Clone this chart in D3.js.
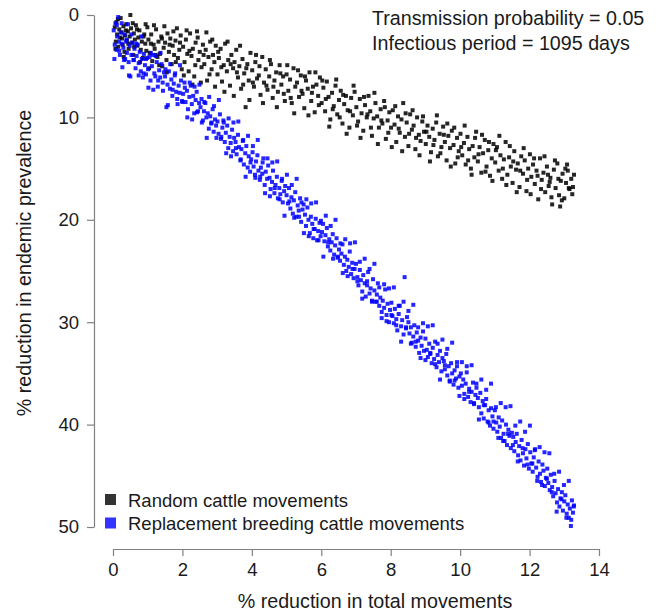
<!DOCTYPE html>
<html>
<head>
<meta charset="utf-8">
<script src="https://cdn.jsdelivr.net/npm/d3@7"></script>
<style>
  body { margin: 0; background: #fff; }
  svg { display: block; font-family: "Liberation Sans", Arial, sans-serif; }
</style>
</head>
<body>
<svg id="chart" width="658" height="615"></svg>
<script>
// axis ticks and labels
const xTicks = [0, 2, 4, 6, 8, 10, 12, 14];
const yTicks = [0, 10, 20, 30, 40, 50];
const xTitle = "% reduction in total movements";
const yTitle = "% reduction in endemic prevalence";
const noteLines = ["Transmission probability = 0.05", "Infectious period = 1095 days"];
const seriesNames = ["Random cattle movements", "Replacement breeding cattle movements"];

// [% reduction in movements, % reduction in prevalence]
const randomPts = [
  [0.05,1.2],[0.08,2.6],[0.1,0.7],[0.12,1.9],[0.15,3.1],[0.18,1.4],[0.2,2.2],[0.22,0.3],[0.25,1.7],[0.28,2.9],
  [0.3,1.1],[0.33,3.6],[0.35,2.0],[0.38,0.9],[0.4,2.5],[0.43,1.6],[0.45,3.3],[0.48,2.1],[0.5,0.0],[0.52,1.3],
  [0.55,2.7],[0.58,3.9],[0.6,1.8],[0.63,2.4],[0.66,1.0],[0.7,3.0],[0.73,2.2],[0.76,1.5],[0.8,3.4],[0.83,2.6],
  [0.86,4.2],[0.9,1.9],[0.93,2.8],[0.96,3.5],[0.99,1.2],
  [1.02,2.4],[1.06,3.7],[1.1,1.9],[1.13,4.5],[1.17,2.9],[1.2,3.3],[1.24,1.4],[1.28,4.1],[1.31,2.6],[1.35,3.8],
  [1.39,2.1],[1.42,5.0],[1.46,3.2],[1.5,2.7],[1.54,4.4],[1.57,1.8],[1.61,3.6],[1.65,2.3],[1.69,4.8],[1.72,3.0],
  [1.76,3.9],[1.8,2.5],[1.84,1.3],[1.87,4.2],[1.91,3.4],[1.95,2.0],[1.98,5.3],
  [2.02,3.1],[2.06,4.6],[2.1,2.4],[2.14,3.8],[2.18,5.5],[2.22,1.8],[2.26,4.0],[2.3,3.3],[2.34,6.0],[2.38,2.7],
  [2.42,1.6],[2.46,4.4],[2.5,3.6],[2.55,5.1],[2.59,2.9],[2.63,4.8],[2.67,3.4],[2.71,6.4],[2.75,4.1],[2.8,2.6],
  [2.84,5.3],[2.88,3.9],[2.92,4.6],[2.96,3.0],
  [3.01,5.8],[3.05,4.2],[3.1,3.3],[3.14,6.5],[3.19,4.9],[3.23,2.8],[3.28,5.5],[3.32,4.4],[3.37,6.9],[3.41,3.9],
  [3.46,5.2],[3.5,4.6],[3.55,3.4],[3.6,6.1],[3.64,5.0],[3.69,7.2],[3.73,4.3],[3.78,5.7],[3.82,9.0],[3.87,4.8],
  [3.91,6.4],[3.96,3.7],
  [4.01,5.4],[4.06,7.0],[4.1,4.6],[4.15,6.2],[4.2,5.9],[4.25,7.8],[4.3,4.1],[4.35,6.6],[4.4,5.3],[4.45,7.3],
  [4.5,6.0],[4.55,4.8],[4.6,8.1],[4.65,6.4],[4.7,5.6],[4.75,7.5],[4.8,4.9],[4.85,6.8],[4.9,6.0],[4.95,8.4],
  [5.0,5.8],[5.05,7.4],[5.1,6.3],[5.15,8.6],[5.2,5.2],[5.25,7.0],[5.3,6.6],[5.36,8.0],[5.41,5.9],[5.46,7.7],
  [5.51,9.1],[5.56,6.4],[5.61,7.2],[5.66,5.6],[5.71,8.4],[5.76,7.0],[5.81,9.5],[5.86,6.8],[5.91,7.9],[5.96,6.1],
  [6.01,8.6],[6.06,7.1],[6.11,9.4],[6.16,6.5],[6.21,8.0],[6.26,10.2],[6.31,7.6],[6.36,8.9],[6.41,6.9],[6.46,9.7],
  [6.51,8.3],[6.56,7.4],[6.61,10.6],[6.66,8.7],[6.71,7.9],[6.76,9.3],[6.81,11.0],[6.86,8.1],[6.91,9.8],[6.96,7.5],
  [7.01,9.0],[7.06,10.4],[7.11,8.2],[7.16,9.6],[7.21,11.3],[7.26,8.8],[7.31,10.0],[7.36,7.9],[7.41,9.4],[7.46,11.8],
  [7.51,10.1],[7.56,8.6],[7.61,9.9],[7.66,11.0],[7.71,9.2],[7.76,10.6],[7.81,8.4],[7.86,12.1],[7.91,10.3],[7.96,9.5],
  [8.01,11.0],[8.06,9.3],[8.11,10.7],[8.16,12.4],[8.21,9.9],[8.26,11.5],[8.31,10.2],[8.36,8.6],[8.41,11.9],[8.46,10.5],
  [8.51,12.8],[8.56,9.7],[8.61,11.2],[8.66,10.8],[8.71,13.1],[8.76,10.0],[8.81,11.7],[8.86,12.3],[8.91,10.4],[8.96,11.4],
  [9.01,12.6],[9.06,10.8],[9.11,11.9],[9.16,13.4],[9.21,11.1],[9.26,12.2],[9.31,10.5],[9.36,13.8],[9.41,11.6],[9.46,12.9],
  [9.51,10.9],[9.56,12.4],[9.61,14.2],[9.66,11.8],[9.71,13.0],[9.76,11.3],[9.81,12.7],[9.86,14.5],[9.91,12.0],[9.96,13.3],
  [10.01,11.6],[10.06,13.7],[10.11,12.5],[10.16,14.6],[10.21,11.9],[10.26,13.1],[10.31,15.0],[10.36,12.8],[10.41,13.9],[10.46,11.4],
  [10.51,14.3],[10.56,12.9],[10.61,15.4],[10.66,13.5],[10.71,12.2],[10.76,14.8],[10.81,13.2],[10.86,15.7],[10.91,14.0],[10.96,12.6],
  [11.01,14.4],[11.06,12.9],[11.11,15.2],[11.16,13.7],[11.21,16.0],[11.26,14.1],[11.31,12.4],[11.36,15.6],[11.41,13.9],[11.46,14.8],
  [11.51,16.4],[11.56,13.3],[11.61,15.1],[11.66,14.5],[11.71,16.8],[11.76,13.8],[11.81,15.5],[11.86,14.2],[11.91,17.2],[11.96,15.0],
  [12.01,13.6],[12.05,15.8],[12.1,14.6],[12.15,16.5],[12.2,15.2],[12.25,18.0],[12.3,14.0],[12.35,16.1],[12.4,15.4],[12.45,17.3],
  [12.5,14.8],[12.55,16.7],[12.6,15.9],[12.65,18.5],[12.7,15.1],[12.75,16.9],[12.8,14.5],[12.85,17.6],[12.9,16.2],[12.95,15.5],
  [13.0,17.9],[13.05,16.4],[13.1,15.2],[13.15,17.0],[13.2,16.0],[13.25,16.8],[13.28,15.6],
  [0.07,3.3],[0.14,0.4],[0.26,2.3],[0.31,4.1],[0.37,1.5],[0.44,2.8],[0.57,0.8],[0.61,3.1],[0.69,1.4],[0.78,4.6],
  [0.88,2.1],[0.94,0.9],[1.04,5.2],[1.09,2.8],[1.18,1.0],[1.23,3.9],[1.33,4.9],[1.41,2.3],[1.48,1.1],[1.55,5.6],
  [1.63,2.9],[1.74,1.6],[1.81,4.6],[1.93,2.7],[2.04,5.9],[2.12,1.5],[2.2,3.5],[2.29,6.8],[2.37,4.9],[2.44,2.2],
  [2.53,6.6],[2.61,3.9],[2.69,1.7],[2.78,5.8],[2.86,2.4],[2.94,7.0],[3.03,3.6],[3.12,5.1],[3.21,7.5],[3.3,2.6],
  [3.39,4.8],[3.48,7.9],[3.57,5.6],[3.66,3.0],[3.75,6.8],[3.84,5.2],[3.93,8.3],[4.03,6.6],[4.12,3.9],[4.22,5.0],
  [4.32,8.6],[4.42,6.9],[4.52,4.4],[4.62,7.0],[4.72,9.0],[4.82,5.7],[4.92,7.7],[5.02,4.9],[5.12,8.1],[5.22,9.6],
  [5.33,5.4],[5.43,7.4],[5.53,6.0],[5.63,9.8],[5.73,7.6],[5.83,5.6],[5.93,8.8],[6.03,6.4],[6.13,8.2],[6.23,10.9],
  [6.33,9.2],[6.43,6.3],[6.53,10.0],[6.63,7.8],[6.73,11.6],[6.83,9.4],[6.93,6.9],[7.03,10.8],[7.13,12.0],[7.23,8.0],
  [7.33,9.7],[7.43,11.0],[7.53,7.6],[7.63,12.6],[7.73,10.3],[7.83,9.0],[7.93,11.5],[8.03,12.9],[8.13,8.9],[8.23,11.1],
  [8.33,13.3],[8.43,9.6],[8.53,11.6],[8.63,9.3],[8.73,12.0],[8.83,13.7],[8.93,9.9],[9.03,11.4],[9.13,14.3],[9.23,12.7],
  [9.33,9.8],[9.43,13.5],[9.53,11.7],[9.63,10.6],[9.73,14.8],[9.83,11.0],[9.93,13.9],[10.03,12.9],[10.13,10.8],[10.23,14.2],
  [10.33,15.6],[10.43,12.0],[10.53,13.6],[10.63,11.7],[10.73,15.3],[10.83,12.4],[10.93,16.2],[11.03,13.2],[11.13,11.8],[11.23,15.0],
  [11.33,16.6],[11.43,12.8],[11.53,14.3],[11.63,17.3],[11.73,15.2],[11.83,13.0],[11.93,16.1],[12.03,17.5],[12.13,14.0],[12.23,15.7],
  [12.33,17.0],[12.43,13.8],[12.53,15.6],[12.63,17.8],[12.73,14.2],[12.83,16.0],[12.93,18.1],[13.03,15.0],[13.13,16.9],[13.23,17.5],
  [13.08,14.6],[12.88,18.7],[12.58,16.3]
];

const breedingPts = [
  [0.02,1.5],[0.05,2.9],[0.07,0.8],[0.1,3.4],[0.12,2.1],[0.15,0.2],[0.17,2.6],[0.2,3.9],[0.22,1.7],[0.25,2.8],
  [0.27,5.1],[0.3,3.2],[0.33,1.9],[0.35,4.3],[0.38,2.6],[0.4,3.7],[0.43,0.9],[0.45,4.6],[0.48,3.0],
  [0.5,6.0],[0.53,3.9],[0.56,2.7],[0.59,4.4],[0.62,3.3],[0.65,5.2],[0.68,4.0],[0.71,2.9],[0.74,4.7],[0.77,3.6],
  [0.8,5.5],[0.83,4.3],[0.86,6.1],[0.89,3.8],[0.92,4.9],[0.95,5.8],[0.98,4.2],
  [1.01,5.3],[1.05,4.1],[1.08,6.4],[1.12,5.0],[1.15,3.9],[1.19,5.7],[1.22,6.0],[1.26,4.6],[1.29,7.0],[1.33,5.4],
  [1.36,6.1],[1.4,4.8],[1.43,6.6],[1.47,5.6],
  [1.5,6.0],[1.54,9.0],[1.57,6.8],[1.61,5.5],[1.64,7.2],[1.68,6.3],[1.71,7.9],[1.75,6.7],[1.78,5.9],[1.82,7.5],
  [1.85,8.2],[1.89,6.9],[1.92,7.6],[1.96,6.4],[1.99,8.4],
  [2.02,7.7],[2.06,6.6],[2.09,8.5],[2.13,7.4],[2.16,9.2],[2.2,8.0],[2.24,6.9],[2.27,8.7],[2.31,7.9],[2.34,9.6],
  [2.38,8.3],[2.41,7.5],[2.45,9.4],[2.48,8.6],
  [2.52,9.0],[2.55,8.2],[2.59,10.3],[2.62,9.4],[2.66,8.6],[2.69,10.0],[2.73,9.6],[2.76,11.1],[2.8,9.9],[2.83,10.6],
  [2.87,9.2],[2.9,11.4],[2.94,10.2],[2.97,10.8],
  [3.01,10.4],[3.04,11.6],[3.08,9.7],[3.11,12.1],[3.15,11.0],[3.18,10.3],[3.22,12.4],[3.25,11.5],[3.29,10.8],[3.32,13.0],
  [3.36,11.9],[3.39,12.5],[3.43,11.2],[3.46,13.3],[3.49,12.0],
  [3.53,12.4],[3.56,13.6],[3.6,11.7],[3.63,12.9],[3.67,14.2],[3.7,13.1],[3.74,12.3],[3.77,14.6],[3.81,13.5],[3.84,12.8],
  [3.88,14.9],[3.91,13.8],[3.95,15.3],[3.98,14.1],
  [4.02,13.4],[4.05,14.8],[4.09,15.6],[4.12,14.3],[4.16,13.7],[4.19,15.2],[4.23,16.1],[4.26,14.9],[4.3,15.5],[4.33,14.0],
  [4.37,16.6],[4.4,15.3],[4.44,16.0],[4.47,14.7],
  [4.51,15.9],[4.54,17.0],[4.58,16.3],[4.61,15.2],[4.65,17.4],[4.68,16.6],[4.72,15.8],[4.75,17.9],[4.79,16.9],[4.82,17.5],
  [4.86,16.2],[4.89,18.3],[4.93,17.2],[4.96,16.7],
  [5.0,17.6],[5.04,18.4],[5.07,16.9],[5.11,18.9],[5.14,17.8],[5.18,19.4],[5.21,18.1],[5.25,17.3],[5.28,19.7],[5.32,18.6],
  [5.35,19.1],[5.39,17.9],[5.42,20.2],[5.46,19.0],[5.49,18.5],
  [5.53,19.5],[5.56,20.6],[5.6,18.8],[5.63,20.0],[5.67,21.3],[5.7,19.7],[5.74,20.4],[5.77,21.8],[5.81,20.9],[5.84,19.9],
  [5.88,22.0],[5.91,21.1],[5.95,20.3],[5.98,21.6],
  [6.02,21.2],[6.05,20.4],[6.09,22.1],[6.12,21.5],[6.16,20.8],[6.19,22.6],[6.23,21.9],[6.26,23.0],[6.3,22.2],[6.33,21.4],
  [6.37,23.4],[6.4,22.5],[6.44,21.8],[6.47,23.7],
  [6.51,22.9],[6.54,24.0],[6.58,23.3],[6.61,22.4],[6.65,24.4],[6.68,23.6],[6.72,25.0],[6.75,23.9],[6.79,24.6],[6.82,23.1],
  [6.86,25.3],[6.89,24.2],[6.93,25.7],[6.96,24.8],
  [7.0,24.3],[7.04,25.6],[7.07,26.4],[7.11,24.9],[7.14,25.9],[7.18,27.0],[7.21,25.4],[7.25,26.2],[7.28,27.5],[7.32,26.0],
  [7.35,25.1],[7.39,27.2],[7.42,26.7],[7.46,27.9],[7.49,25.8],
  [7.53,26.9],[7.56,28.0],[7.6,27.3],[7.63,26.2],[7.67,28.4],[7.7,27.6],[7.74,29.0],[7.77,27.9],[7.81,28.6],[7.84,26.8],
  [7.88,29.3],[7.91,28.2],[7.95,30.0],[7.98,28.8],
  [8.02,28.1],[8.05,29.4],[8.09,30.1],[8.12,28.7],[8.16,29.7],[8.19,30.8],[8.23,29.2],[8.26,28.4],[8.3,30.4],[8.33,29.8],
  [8.37,31.2],[8.4,25.6],[8.44,30.6],[8.47,29.5],
  [8.51,30.0],[8.54,31.1],[8.58,30.5],[8.61,32.0],[8.65,31.4],[8.68,30.3],[8.72,32.4],[8.75,31.0],[8.79,31.8],[8.82,33.0],
  [8.86,31.5],[8.89,32.3],[8.93,30.9],[8.96,32.8],
  [9.0,31.6],[9.04,32.7],[9.07,33.4],[9.11,32.1],[9.14,33.1],[9.18,34.0],[9.21,32.5],[9.25,33.6],[9.28,31.9],[9.32,34.4],
  [9.35,33.2],[9.39,33.9],[9.42,32.8],[9.46,34.8],[9.49,33.5],
  [9.53,33.8],[9.56,34.6],[9.6,33.1],[9.63,35.2],[9.67,34.3],[9.7,35.7],[9.74,34.0],[9.77,35.0],[9.81,36.1],[9.84,34.7],
  [9.88,35.5],[9.91,33.9],[9.95,36.4],[9.98,35.3],
  [10.02,35.0],[10.05,36.2],[10.09,35.6],[10.12,37.0],[10.16,36.0],[10.19,34.9],[10.23,37.3],[10.26,36.5],[10.3,37.8],[10.33,36.8],
  [10.37,35.9],[10.4,38.0],[10.44,37.1],[10.47,36.4],
  [10.51,37.4],[10.54,38.3],[10.58,36.9],[10.61,38.9],[10.65,37.7],[10.68,39.4],[10.72,38.1],[10.75,37.5],[10.79,39.7],[10.82,38.6],
  [10.86,40.1],[10.89,38.4],[10.93,39.2],[10.96,40.4],
  [11.0,38.6],[11.04,39.8],[11.07,40.7],[11.11,39.3],[11.14,40.2],[11.18,41.3],[11.21,39.6],[11.25,40.9],[11.28,41.6],[11.32,40.0],
  [11.35,42.0],[11.39,40.5],[11.42,41.1],[11.46,42.3],[11.49,40.8],
  [11.53,41.2],[11.56,42.6],[11.6,41.7],[11.63,40.9],[11.67,43.0],[11.7,42.1],[11.74,43.5],[11.77,41.5],[11.81,42.8],[11.84,44.0],
  [11.88,42.4],[11.91,43.3],[11.95,41.9],[11.98,44.3],
  [12.02,42.7],[12.05,43.8],[12.09,44.6],[12.12,43.2],[12.16,42.4],[12.19,44.2],[12.23,45.1],[12.26,43.6],[12.3,44.8],[12.33,45.6],
  [12.37,43.9],[12.4,44.5],[12.44,46.0],[12.47,45.2],
  [12.51,44.3],[12.54,45.7],[12.58,46.4],[12.61,44.9],[12.65,46.1],[12.68,47.0],[12.72,45.5],[12.75,46.7],[12.79,47.6],[12.82,46.3],
  [12.86,48.0],[12.89,47.2],[12.93,46.6],[12.96,48.4],[13.0,47.5],[13.03,46.9],[13.07,48.7],[13.1,47.8],[13.13,49.1],[13.16,48.2],
  [13.19,49.9],[13.22,47.4],[13.25,48.6],[13.28,47.9],
  [0.04,4.3],[0.11,1.0],[0.18,3.5],[0.25,0.8],[0.32,4.4],[0.39,2.4],[0.46,5.9],[0.53,1.9],[0.6,4.4],[0.67,2.8],
  [0.74,5.9],[0.81,2.1],[0.88,5.7],[0.95,4.3],[1.02,7.1],[1.09,3.7],[1.16,7.3],[1.23,4.0],[1.3,6.4],[1.37,3.7],
  [1.44,7.4],[1.51,5.3],[1.58,8.8],[1.65,4.8],[1.72,7.3],[1.79,5.7],[1.86,8.7],[1.93,4.9],[2.0,8.5],[2.07,7.1],
  [2.14,10.0],[2.21,6.6],[2.28,10.2],[2.35,7.0],[2.42,9.5],[2.49,6.8],[2.56,10.5],[2.63,8.5],[2.7,12.0],[2.77,8.0],
  [2.84,10.5],[2.91,8.9],[2.98,12.0],[3.05,8.3],[3.12,11.9],[3.19,10.5],[3.26,13.5],[3.33,10.1],[3.4,13.8],[3.47,10.5],
  [3.54,13.0],[3.61,10.4],[3.68,14.1],[3.75,12.2],[3.82,15.8],[3.89,11.8],[3.96,14.4],[4.03,12.8],[4.1,15.9],[4.17,12.2],
  [4.24,15.8],[4.31,14.4],[4.38,17.4],[4.45,14.0],[4.52,17.7],[4.59,14.4],[4.66,16.9],[4.73,14.3],[4.8,18.0],[4.87,16.0],
  [4.94,19.6],[5.01,15.6],[5.08,18.2],[5.15,16.6],[5.22,19.8],[5.29,16.0],[5.36,19.7],[5.43,18.3],[5.5,21.3],[5.57,18.0],
  [5.64,21.6],[5.71,18.4],[5.78,20.9],[5.85,18.3],[5.92,22.0],[5.99,20.1],[6.06,23.6],[6.13,19.6],[6.2,22.2],[6.27,20.6],
  [6.34,23.8],[6.41,20.0],[6.48,23.6],[6.55,22.3],[6.62,25.2],[6.69,21.9],[6.76,25.5],[6.83,22.3],[6.9,24.8],[6.97,22.2],
  [7.04,26.0],[7.11,24.1],[7.18,27.7],[7.25,23.8],[7.32,26.4],[7.39,24.8],[7.46,28.0],[7.53,24.3],[7.6,28.0],[7.67,26.6],
  [7.74,29.6],[7.81,26.3],[7.88,29.9],[7.95,26.7],[8.02,29.3],[8.09,26.6],[8.16,30.3],[8.23,28.4],[8.3,31.9],[8.37,28.0],
  [8.44,30.5],[8.51,28.9],[8.58,32.1],[8.65,28.3],[8.72,31.9],[8.79,30.5],[8.86,33.5],[8.93,30.1],[9.0,33.7],[9.07,30.4],
  [9.14,33.0],[9.21,30.3],[9.28,34.1],[9.35,32.1],[9.42,35.6],[9.49,31.7],[9.56,34.2],[9.63,32.6],[9.7,35.8],[9.77,32.0],
  [9.84,35.7],[9.91,34.3],[9.98,37.2],[10.05,33.9],[10.12,37.5],[10.19,34.3],[10.26,36.8],[10.33,34.2],[10.4,37.9],[10.47,36.0],
  [10.54,39.5],[10.61,35.6],[10.68,38.1],[10.75,36.6],[10.82,39.8],[10.89,36.0],[10.96,39.7],[11.03,38.3],[11.1,41.3],[11.17,37.9],
  [11.24,41.6],[11.31,38.3],[11.38,40.9],[11.45,38.2],[11.52,42.0],[11.59,40.1],[11.66,43.6],[11.73,39.7],[11.8,42.3],[11.87,40.7],
  [11.94,43.9],[12.01,40.1],[12.08,43.8],[12.15,42.5],[12.22,45.5],[12.29,42.2],[12.36,45.9],[12.43,42.7],[12.5,45.3],[12.57,42.8],
  [12.64,46.6],[12.71,44.8],[12.78,48.5],[12.85,44.6],[12.92,47.3],[12.99,45.9],[13.06,49.1],[13.13,45.5],[13.2,49.3],[13.27,48.0]
];

const svg = d3.select("#chart");
const tickFont = 18.5;
const titleFont = 19.7;

// scales: axis runs 0..14 and 0..50, prevalence grows downward
const x = d3.scaleLinear().domain([0, 14]).range([113, 599]);
const y = d3.scaleLinear().domain([0, 50]).range([15, 527]);

// x axis
const xAxis = svg.append("g")
  .attr("transform", "translate(0,549)")
  .call(d3.axisBottom(x).tickValues(xTicks).tickSize(7).tickSizeOuter(0).tickPadding(7));

// y axis
const yAxis = svg.append("g")
  .attr("transform", "translate(94,0)")
  .call(d3.axisLeft(y).tickValues(yTicks).tickSize(7).tickSizeOuter(0).tickPadding(8));

[xAxis, yAxis].forEach(g => {
  g.select(".domain").attr("stroke", "#808080").attr("stroke-width", 1.2);
  g.selectAll(".tick line").attr("stroke", "#808080").attr("stroke-width", 1.2);
  g.selectAll(".tick text")
    .attr("fill", "#1a1a1a")
    .style("font-family", "'Liberation Sans', Arial, sans-serif")
    .style("font-size", tickFont + "px");
});

// axis titles
svg.append("text")
  .attr("x", 375).attr("y", 608)
  .attr("text-anchor", "middle")
  .attr("fill", "#1a1a1a")
  .style("font-size", titleFont + "px")
  .text(xTitle);

svg.append("text")
  .attr("transform", "translate(31,263) rotate(-90)")
  .attr("text-anchor", "middle")
  .attr("fill", "#1a1a1a")
  .style("font-size", titleFont + "px")
  .text(yTitle);

// points
const sq = 4;
svg.append("g")
  .selectAll("rect")
  .data(randomPts)
  .enter()
  .append("rect")
    .attr("x", d => x(d[0]) - sq / 2)
    .attr("y", d => y(d[1]) - sq / 2)
    .attr("width", sq)
    .attr("height", sq)
    .attr("fill", "#000")
    .attr("fill-opacity", 0.85);

svg.append("g")
  .selectAll("rect")
  .data(breedingPts)
  .enter()
  .append("rect")
    .attr("x", d => x(d[0]) - sq / 2)
    .attr("y", d => y(d[1]) - sq / 2)
    .attr("width", sq)
    .attr("height", sq)
    .attr("fill", "#0000ff")
    .attr("fill-opacity", 0.85);

// note in top right corner
svg.append("g")
  .selectAll("text")
  .data(noteLines)
  .enter()
  .append("text")
    .attr("x", 372)
    .attr("y", (d, i) => 25 + i * 25)
    .attr("fill", "#1a1a1a")
    .style("font-size", titleFont + "px")
    .text(d => d);

// legend
const legendColors = ["#333333", "#3333ff"];
const legend = svg.append("g")
  .selectAll("g")
  .data(seriesNames)
  .enter()
  .append("g")
    .attr("transform", (d, i) => `translate(105,${494 + i * 23.5})`);

legend.append("rect")
  .attr("width", 11).attr("height", 11)
  .attr("fill", (d, i) => legendColors[i]);

legend.append("text")
  .attr("x", 23).attr("y", 12.5)
  .attr("fill", "#1a1a1a")
  .style("font-size", tickFont + "px")
  .text(d => d);
</script>
</body>
</html>
